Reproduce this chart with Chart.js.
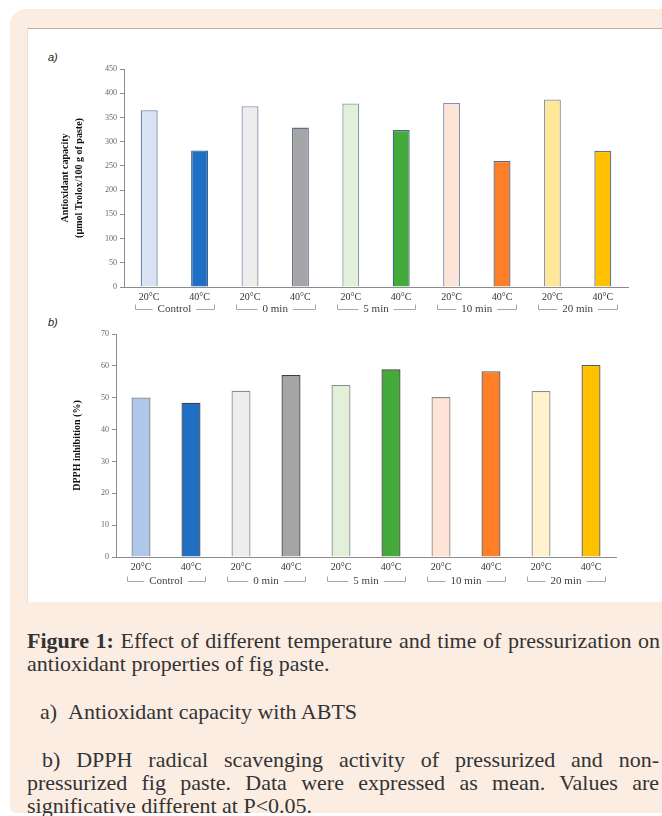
<!DOCTYPE html>
<html><head><meta charset="utf-8">
<script src="https://cdn.jsdelivr.net/npm/chart.js@4.4.1/dist/chart.umd.min.js"></script>
<style>
html,body{margin:0;padding:0;background:#fff;width:662px;height:816px;overflow:hidden;position:relative;font-family:'Liberation Serif',serif;}
#box{position:absolute;left:10px;top:9px;width:700px;height:804px;background:#fcede3;border-radius:16px 0 0 6px;}
#panel{position:absolute;left:27px;top:28px;width:700px;height:574px;background:#fff;border-top:1px solid #bdb2aa;border-left:1px solid #e9dfd7;box-sizing:border-box;}
canvas{position:absolute;left:0;}
#cA{top:30px;}
#cB{top:318px;}
.lab{position:absolute;left:48px;font-family:'Liberation Sans',sans-serif;font-style:italic;font-size:11px;color:#222;}
.cap{position:absolute;font-size:22px;line-height:23px;color:#333;white-space:nowrap;}
.just{text-align:justify;text-align-last:justify;white-space:normal;}
</style>
</head><body>
<div id="box"></div>
<div id="panel"></div>
<div class="lab" style="top:51px;">a)</div>
<div class="lab" style="top:316px;">b)</div>
<canvas id="cA" width="662" height="295"></canvas>
<canvas id="cB" width="662" height="282"></canvas>
<div class="cap just" style="left:27px;top:629px;width:633px;"><b>Figure 1:</b> Effect of different temperature and time of pressurization on</div>
<div class="cap" style="left:27px;top:652px;">antioxidant properties of fig paste.</div>
<div class="cap" style="left:40px;top:700px;">a)&nbsp;&nbsp;Antioxidant capacity with ABTS</div>
<div class="cap just" style="left:42px;top:748px;width:617px;">b) DPPH radical scavenging activity of pressurized and non-</div>
<div class="cap just" style="left:27px;top:771px;width:632px;">pressurized fig paste. Data were expressed as mean. Values are</div>
<div class="cap" style="left:27px;top:794px;">significative different at P&lt;0.05.</div>
<script>
const categories = ['20°C','40°C','20°C','40°C','20°C','40°C','20°C','40°C','20°C','40°C'];
const groups = ['Control','0 min','5 min','10 min','20 min'];
const abtsValues = [365, 282, 373, 329, 379, 324, 380, 260, 387, 281];
const dpphValues = [50.1, 48.4, 52.2, 57.1, 54.0, 58.9, 50.2, 58.3, 52.1, 60.3];
const abtsTicks = {min: 0, max: 450, step: 50};
const dpphTicks = {min: 0, max: 70, step: 10};

const colorsA = ['#dae3f3','#1f6fc5','#ededed','#a5a5a5','#e2f0d9','#44ab3a','#fde4d6','#ff7f27','#ffe699','#ffc000'];
const bordersA = ['#7587a8','#3f5f8f','#8a96ac','#5f6f8c','#8a9cb8','#4a6688','#7f93b5','#56698c','#8795ad','#66769a'];
const colorsB = ['#adc8ea','#1f6fc5','#ededed','#a5a5a5','#e2f0d9','#44ab3a','#fde4d6','#ff7f27','#fff2cc','#ffc000'];
const bordersB = ['#7f7f7f','#404040','#8c8c8c','#404040','#8c8c8c','#404040','#8c8c8c','#595959','#8c8c8c','#595959'];

const groupPlugin = {
  id: 'groups',
  afterDraw(chart, args, opts) {
    const x = chart.scales.x, ctx = chart.ctx;
    const cw = (x.right - x.left) / categories.length;
    const y = chart.chartArea.bottom + opts.dy;
    ctx.save();
    ctx.font = '11px "Liberation Serif"';
    ctx.fillStyle = '#404040';
    ctx.strokeStyle = '#a6a6a6';
    ctx.lineWidth = 1;
    ctx.textAlign = 'center';
    ctx.textBaseline = 'middle';
    groups.forEach((g, i) => {
      const left = x.getPixelForValue(2 * i) - cw / 2 + 11;
      const right = x.getPixelForValue(2 * i + 1) + cw / 2 - 11;
      const cx = (left + right) / 2;
      const tw = ctx.measureText(g).width;
      ctx.fillText(g, cx, y);
      const ly = Math.round(y) + 0.5;
      ctx.beginPath();
      ctx.moveTo(Math.round(left) + 0.5, ly - 5);
      ctx.lineTo(Math.round(left) + 0.5, ly);
      ctx.lineTo(cx - tw / 2 - 5, ly);
      ctx.moveTo(cx + tw / 2 + 5, ly);
      ctx.lineTo(Math.round(right) + 0.5, ly);
      ctx.lineTo(Math.round(right) + 0.5, ly - 5);
      ctx.stroke();
    });
    ctx.restore();
  }
};

function makeChart(id, values, bg, bd, ticksDef, title, titleSize, yWidth, xHeight, padding, barPct, dy) {
  return new Chart(document.getElementById(id), {
    type: 'bar',
    data: {
      labels: categories,
      datasets: [{data: values, backgroundColor: bg, borderColor: bd, borderWidth: 1.3,
                   borderSkipped: 'bottom', barPercentage: barPct, categoryPercentage: 1}]
    },
    plugins: [groupPlugin],
    options: {
      responsive: false, animation: false,
      layout: {padding: padding},
      plugins: {legend: {display: false}, tooltip: {enabled: false}, groups: {dy: dy}},
      scales: {
        x: {
          grid: {display: false, drawTicks: false},
          border: {color: '#8c8c8c'},
          ticks: {font: {family: 'Liberation Serif', size: 10}, color: '#333', padding: 4, maxRotation: 0, autoSkip: false},
          afterFit(s) { s.height = xHeight; }
        },
        y: {
          min: ticksDef.min, max: ticksDef.max,
          ticks: {stepSize: ticksDef.step, font: {family: 'Liberation Serif', size: 8}, color: '#666', padding: 3},
          grid: {drawOnChartArea: false, drawTicks: true, tickLength: 4, color: '#8c8c8c'},
          border: {color: '#8c8c8c'},
          title: {display: true, text: title, color: '#111',
                  font: {family: 'Liberation Serif', size: titleSize, weight: 'bold', lineHeight: 1.35},
                  padding: {top: 0, bottom: 0}},
          afterFit(s) { s.width = yWidth; }
        }
      }
    }
  });
}

makeChart('cA', abtsValues, colorsA, bordersA, abtsTicks,
  ['Antioxidant capacity', '(µmol Trolox/100 g of paste)'], 10, 65, 38,
  {left: 59, right: 34, top: 39, bottom: 0}, 0.337, 22);
makeChart('cB', dpphValues, colorsB, bordersB, dpphTicks,
  'DPPH inhibition (%)', 10, 45, 43,
  {left: 71, right: 46, top: 16, bottom: 0}, 0.38, 24);
</script>
</body></html>
